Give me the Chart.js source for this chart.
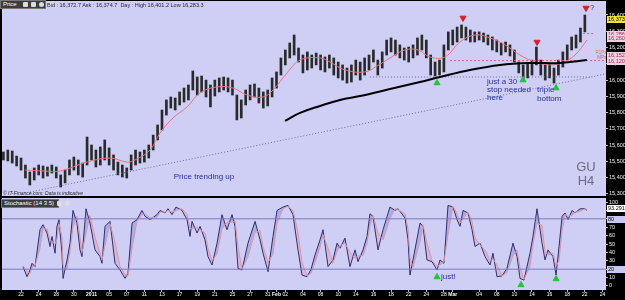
<!DOCTYPE html>
<html>
<head>
<meta charset="utf-8">
<script src="https://cdn.jsdelivr.net/npm/chart.js@4.4.1/dist/chart.umd.min.js"></script>
<style>
  html, body { margin: 0; padding: 0; background: #000; }
  #wrap { position: relative; width: 625px; height: 300px; background: #000; overflow: hidden; font-family: "Liberation Sans", Arial, sans-serif; }
  #priceBox { position: absolute; left: 0; top: 0; }
  #stochBox { position: absolute; left: 0; top: 197px; }
  .tag { position: absolute; background: #3c3c3c; border: 1px solid #777; color: #fff; font-size: 6px; line-height: 7px; padding: 0 2px; white-space: nowrap; }
  .tag i { display: inline-block; width: 5px; height: 5px; margin-left: 3px; vertical-align: middle; background: #ddd; border-radius: 1px; }
  .small { position: absolute; font-size: 5.5px; color: #223; white-space: nowrap; }
</style>
</head>
<body>
<div id="wrap">
  <div id="priceBox"><canvas id="price" width="625" height="197"></canvas></div>
  <div id="stochBox"><canvas id="stoch" width="625" height="103"></canvas></div>
  <div class="tag" style="left:0;top:0;width:40px;">Price<i style="margin-left:6px"></i><i></i><i style="border-radius:3px"></i><i></i></div>
  <div class="small" style="left:47px;top:2px;">Bid : 16,372.7 Ask : 16,374.7 &nbsp;Day : High 16,401.2 Low 16,283.3</div>
  <div class="small" style="left:3px;top:190px;font-style:italic;font-size:5px;">© IT-Finance.com: Data is indicative</div>
  <div class="tag" style="left:1px;top:199px;width:52px;">Stochastic (14 3 5)<i></i><i style="border-radius:3px"></i></div>
</div>
<script>
// x unit = trading day, 0 = Dec 20 2010; price bars are half-day slots
var tickDays = [2, 4, 6, 8, 10, 12, 14, 16, 18, 20, 22, 24, 26, 28, 30, 31, 32, 34, 36, 38, 40, 42, 44, 46, 48, 50, 51, 54, 56, 58, 60, 62, 64, 66, 68];
var tickLabels = ['22', '24', '28', '30', '2011', '05', '07', '11', '13', '17', '19', '21', '25', '27', '31', 'Feb', '02', '04', '08', '10', '14', '16', '18', '22', '24', '28', 'Mar', '04', '08', '10', '14', '16', '18', '22', '24'];

var priceTicks = [15300, 15400, 15500, 15600, 15700, 15800, 15900, 16000, 16100, 16200, 16300, 16400];
var stochTicks = [0, 10, 20, 30, 40, 50, 60, 70, 80, 90, 100];

var priceHigh = [
  15558, 15570, 15564, 15533, 15521, 15478, 15435, 15460, 15478, 15472,
  15466, 15478, 15466, 15417, 15447, 15509, 15527, 15509, 15490, 15650,
  15601, 15570, 15589, 15632, 15583, 15540, 15496, 15478, 15460, 15540,
  15570, 15558, 15570, 15601, 15662, 15724, 15816, 15878, 15896, 15890,
  15927, 15951, 15970, 16056, 16019, 16025, 16000, 15970, 16000, 16013,
  16019, 16013, 16000, 15908, 15878, 15939, 15970, 15976, 15951, 15927,
  15939, 16013, 16050, 16136, 16185, 16228, 16277, 16197, 16154, 16173,
  16154, 16166, 16154, 16142, 16154, 16136, 16111, 16093, 16074, 16093,
  16123, 16111, 16136, 16154, 16185, 16123, 16173, 16246, 16259, 16246,
  16216, 16197, 16203, 16216, 16259, 16277, 16246, 16154, 16111, 16123,
  16216, 16296, 16308, 16326, 16339, 16326, 16308, 16296, 16296, 16289,
  16277, 16265, 16246, 16228, 16234, 16216, 16185, 16111, 16093, 16105,
  16123, 16203, 16123, 16093, 16105, 16074, 16123, 16173, 16216, 16265,
  16277, 16320, 16400
];
var priceLow = [
  15509, 15503, 15490, 15472, 15447, 15398, 15355, 15386, 15417, 15398,
  15410, 15429, 15398, 15343, 15368, 15417, 15447, 15417, 15404, 15478,
  15509, 15466, 15478, 15509, 15478, 15447, 15417, 15404, 15398, 15447,
  15478, 15490, 15496, 15521, 15570, 15632, 15693, 15785, 15828, 15816,
  15847, 15865, 15878, 15939, 15908, 15927, 15896, 15835, 15902, 15927,
  15939, 15927, 15908, 15755, 15767, 15847, 15878, 15896, 15859, 15828,
  15841, 15896, 15951, 16031, 16093, 16136, 16154, 16111, 16044, 16062,
  16074, 16093, 16062, 16050, 16074, 16031, 16013, 16000, 15982, 15988,
  16031, 16000, 16031, 16062, 16111, 16031, 16074, 16154, 16173, 16154,
  16136, 16123, 16111, 16136, 16154, 16185, 16136, 16031, 16025, 16031,
  16050, 16185, 16216, 16234, 16259, 16246, 16234, 16234, 16246, 16234,
  16216, 16185, 16173, 16154, 16173, 16148, 16111, 16044, 16000, 16013,
  16031, 16093, 16031, 16000, 16013, 15982, 16031, 16080, 16123, 16185,
  16197, 16234, 16296
];

var fastMaDays = [2.45, 4.72, 6.42, 9.49, 12.10, 14.03, 14.94, 16.64, 17.78, 19.25, 20.84, 22.31, 24.24, 26.06, 27.65, 29.46, 30.60, 32.19, 33.67, 35.94, 37.07, 38.77, 41.04, 42.41, 43.88, 45.58, 47.06, 48.42, 50.12, 51.83, 53.53, 55.23, 56.94, 58.64, 60.34, 62.04, 63.40, 64.88, 66.24];
var fastMa = [15447, 15441, 15441, 15496, 15521, 15496, 15509, 15570, 15675, 15767, 15835, 15921, 15958, 15951, 15908, 15896, 15939, 16044, 16123, 16136, 16111, 16062, 16050, 16087, 16136, 16185, 16185, 16142, 16142, 16234, 16277, 16259, 16216, 16154, 16111, 16093, 16105, 16154, 16246];

var slowMaDays = [31.96, 33.67, 35.94, 38.21, 40.48, 43.88, 47.29, 49.56, 52.96, 56.37, 59.77, 63.17, 66.24];
var slowMa = [15749, 15798, 15841, 15878, 15902, 15945, 15988, 16019, 16062, 16093, 16105, 16105, 16123];

var trendDays = [3.02, 68.29];
var trendPrices = [15312, 16037];
var supportDays = [41.6, 66.6];
var supportPrice = 16019;
var pivotDays = [50.7, 68.3];
var pivotPrice = 16120;
var r1Days = [65.8, 67.0];
var r1Price = 16286;

var upArrowDays = [49.22, 58.98, 62.73];
var upArrowPrices = [15982, 16000, 15951];
var downArrowDays = [52.17, 60.57, 66.13];
var downArrowPrices = [16382, 16234, 16443];

var stochDays = [
  2.22, 2.68, 3.02, 3.25, 3.59, 4.15, 4.49, 4.95, 5.29, 5.52, 5.86, 6.08, 6.31, 6.65, 6.77, 7.22, 7.56, 7.90, 8.35, 8.69,
  8.92, 9.38, 9.83, 10.40, 10.96, 11.19, 11.53, 12.10, 12.67, 13.24, 13.80, 14.14, 14.60, 15.16, 15.73, 16.07, 16.64, 17.44, 17.78, 18.34,
  18.68, 19.14, 19.59, 20.27, 20.84, 21.18, 21.41, 21.98, 22.32, 22.88, 23.22, 23.68, 24.25, 24.81, 25.38, 25.95, 26.29, 26.63, 27.08, 27.76,
  28.56, 29.13, 29.47, 30.04, 30.60, 31.06, 31.74, 32.31, 32.87, 33.44, 33.89, 34.46, 34.92, 35.37, 35.94, 36.28, 36.85, 37.41, 37.87, 38.21,
  38.77, 39.34, 39.91, 40.25, 40.82, 41.27, 41.61, 41.95, 42.52, 43.09, 43.88, 44.45, 44.79, 45.59, 45.93, 46.15, 46.49, 47.29, 47.63, 48.08,
  48.65, 49.22, 49.56, 50.01, 50.47, 51.03, 51.49, 51.83, 52.17, 52.74, 53.19, 53.53, 54.10, 54.67, 55.23, 55.57, 56.03, 56.60, 57.16, 57.84,
  58.30, 58.64, 59.09, 59.77, 60.11, 60.57, 61.14, 61.48, 61.82, 62.38, 62.73, 63.07, 63.41, 63.75, 64.09, 64.55, 64.89, 65.46, 66.02, 66.24
];
var stochK = [
  23, 11, 19, 27, 23, 67, 73, 63, 47, 59, 39, 71, 79, 39, 9, 31, 51, 90, 75, 43,
  35, 92, 75, 43, 35, 27, 71, 77, 27, 19, 9, 15, 75, 79, 90, 83, 79, 85, 90, 87,
  92, 85, 94, 90, 79, 59, 77, 63, 71, 55, 35, 25, 51, 85, 67, 85, 71, 21, 19, 51,
  77, 55, 39, 17, 59, 90, 94, 96, 85, 43, 13, 11, 20, 37, 55, 67, 23, 31, 51, 45,
  57, 23, 43, 29, 43, 59, 86, 83, 43, 67, 94, 90, 92, 81, 55, 13, 31, 75, 71, 31,
  29, 19, 31, 27, 96, 94, 79, 71, 90, 87, 67, 47, 51, 35, 25, 39, 11, 12, 21, 51,
  35, 9, 7, 39, 59, 92, 51, 31, 43, 35, 13, 47, 83, 87, 79, 90, 87, 92, 92, 90
];
var stochD = [
  24, 17, 15, 22, 24, 45, 68, 68, 55, 53, 50, 56, 74, 58, 24, 20, 41, 70, 83, 58,
  40, 63, 84, 58, 40, 31, 48, 74, 52, 23, 14, 12, 45, 77, 85, 86, 81, 82, 88, 88,
  90, 88, 90, 92, 85, 69, 68, 70, 67, 63, 45, 30, 38, 68, 76, 76, 78, 46, 20, 35,
  64, 66, 47, 28, 38, 75, 92, 95, 90, 64, 28, 12, 15, 28, 46, 61, 45, 27, 41, 48,
  51, 40, 33, 36, 36, 51, 72, 84, 63, 55, 80, 92, 91, 86, 68, 34, 22, 53, 73, 51,
  30, 24, 25, 29, 61, 95, 86, 75, 80, 88, 77, 57, 49, 43, 30, 32, 25, 12, 16, 36,
  43, 22, 8, 23, 49, 75, 72, 41, 37, 39, 24, 30, 65, 85, 83, 84, 88, 89, 92, 91
];
var stochLevels = [20, 80];
var stochArrowDays = [49.22, 58.75, 62.73];
var stochArrowValues = [10.7, 1.2, 8.3];

var xMin = -0.16, xMax = 68.40;
var bg = '#cfcff6';

function pts(xs, ys) {
  return xs.map(function(x, i) { return { x: x, y: ys[i] }; });
}
function fmt(v) {
  return v.toLocaleString('en-US');
}

var panelBackground = {
  id: 'panelBackground',
  beforeDraw: function(chart) {
    var a = chart.chartArea, ctx = chart.ctx;
    ctx.save();
    ctx.fillStyle = bg;
    ctx.fillRect(a.left, a.top, a.right - a.left, a.bottom - a.top);
    ctx.restore();
  }
};

var notes = {
  id: 'notes',
  afterDatasetsDraw: function(chart, args, opts) {
    var ctx = chart.ctx, x = chart.scales.x, y = chart.scales.y;
    ctx.save();
    ctx.textBaseline = 'middle';
    opts.items.forEach(function(n) {
      ctx.font = n.font;
      ctx.fillStyle = n.color;
      ctx.textAlign = n.align || 'left';
      ctx.fillText(n.text, x.getPixelForValue(n.day), y.getPixelForValue(n.value));
    });
    ctx.restore();
  }
};

var axisBoxes = {
  id: 'axisBoxes',
  afterDraw: function(chart, args, opts) {
    var ctx = chart.ctx, y = chart.scales.y, a = chart.chartArea;
    ctx.save();
    ctx.font = '5.5px "Liberation Sans"';
    ctx.textBaseline = 'middle';
    ctx.textAlign = 'left';
    opts.items.forEach(function(b) {
      var py = Math.round(y.getPixelForValue(b.value));
      ctx.fillStyle = b.bg;
      ctx.fillRect(a.right + 1, py - 3, 18, 7);
      ctx.fillStyle = b.fg;
      ctx.fillText(b.text, a.right + 2, py + 0.5);
    });
    ctx.restore();
  }
};

function xAxis(shown) {
  return {
    type: 'linear',
    display: shown,
    offset: false,
    min: xMin,
    max: xMax,
    afterBuildTicks: function(axis) {
      axis.ticks = tickDays.map(function(v) { return { value: v }; });
    },
    afterFit: function(axis) {
      if (shown) axis.height = 10;
      axis.paddingLeft = 0;
      axis.paddingRight = 0;
    },
    grid: { display: true, offset: false, drawOnChartArea: false, drawTicks: true, tickLength: 2, color: '#bbb' },
    border: { display: false },
    ticks: {
      autoSkip: false,
      maxRotation: 0,
      padding: 0,
      color: '#fff',
      font: function(c) {
        var l = tickLabels[c.index];
        return { size: 5, weight: (l === '2011' || l === 'Feb' || l === 'Mar') ? 'bold' : 'normal' };
      },
      callback: function(v, i) { return tickLabels[i]; }
    }
  };
}

function rightAxis(min, max, ticks, label) {
  return {
    position: 'right',
    min: min,
    max: max,
    afterBuildTicks: function(axis) {
      axis.ticks = ticks.map(function(v) { return { value: v }; });
    },
    afterFit: function(axis) {
      axis.width = 19;
      axis.paddingTop = 0;
      axis.paddingBottom = 0;
    },
    grid: { display: true, drawOnChartArea: false, drawTicks: true, tickLength: 2, color: '#bbb' },
    border: { display: false },
    // tiny lineHeight so the edge labels do not pad the plot area
    ticks: { color: '#eee', padding: 1, font: { size: 5.5, lineHeight: 0.01 }, callback: label }
  };
}

Chart.defaults.font.family = '"Liberation Sans", Arial, sans-serif';
Chart.defaults.animation = false;

var priceDots = { borderColor: '#6e6e92', borderWidth: 1, borderDash: [1, 2], pointRadius: 0, fill: false };

new Chart(document.getElementById('price'), {
  type: 'bar',
  data: {
    datasets: [
      {
        type: 'bar',
        data: priceLow.map(function(lo, i) { return { x: i * 0.5, y: [lo, priceHigh[i]] }; }),
        backgroundColor: '#2a2a2a',
        barThickness: 2,
        order: 5
      },
      Object.assign({ type: 'line', data: pts(trendDays, trendPrices), order: 4 }, priceDots),
      Object.assign({ type: 'line', data: pts(supportDays, [supportPrice, supportPrice]), order: 4 }, priceDots),
      { type: 'line', data: pts(pivotDays, [pivotPrice, pivotPrice]), borderColor: '#d06080', borderWidth: 1, borderDash: [2, 2], pointRadius: 0, order: 4 },
      { type: 'line', data: pts(r1Days, [r1Price, r1Price]), borderColor: '#d06080', borderWidth: 1, borderDash: [2, 2], pointRadius: 0, order: 4 },
      { type: 'line', data: pts(fastMaDays, fastMa), borderColor: '#e0787a', borderWidth: 1, pointRadius: 0, tension: 0.4, order: 3 },
      { type: 'line', data: pts(slowMaDays, slowMa), borderColor: '#000', borderWidth: 2, pointRadius: 0, tension: 0.4, order: 2 },
      { type: 'line', data: pts(upArrowDays, upArrowPrices), showLine: false, pointStyle: 'triangle', pointRadius: 3.5, backgroundColor: '#22c43a', borderColor: '#22c43a', order: 1 },
      { type: 'line', data: pts(downArrowDays, downArrowPrices), showLine: false, pointStyle: 'triangle', rotation: 180, pointRadius: 3.5, backgroundColor: '#d82020', borderColor: '#d82020', order: 1 }
    ]
  },
  options: {
    responsive: false,
    layout: { autoPadding: false, padding: { left: 2, top: 1, bottom: 1, right: 0 } },
    plugins: {
      legend: { display: false },
      tooltip: { enabled: false },
      notes: {
        items: [
          { text: 'Price trending up', day: 22.77, value: 15404, align: 'center', color: '#2b2ba0', font: '8px "Liberation Sans"' },
          { text: 'just a 30', day: 54.89, value: 15988, color: '#2b2ba0', font: '8px "Liberation Sans"' },
          { text: 'stop needed', day: 54.89, value: 15939, color: '#2b2ba0', font: '8px "Liberation Sans"' },
          { text: 'here', day: 54.89, value: 15890, color: '#2b2ba0', font: '8px "Liberation Sans"' },
          { text: 'triple', day: 60.57, value: 15939, color: '#2b2ba0', font: '8px "Liberation Sans"' },
          { text: 'bottom', day: 60.57, value: 15884, color: '#2b2ba0', font: '8px "Liberation Sans"' },
          { text: '?', day: 66.59, value: 16443, color: '#2b2ba0', font: '8px "Liberation Sans"' },
          { text: 'R1Px', day: 67.2, value: 16170, color: '#d08040', font: '4.5px "Liberation Sans"' },
          { text: 'MPx', day: 67.4, value: 16135, color: '#d06080', font: '4.5px "Liberation Sans"' },
          { text: 'GU', day: 66.13, value: 15466, align: 'center', color: '#6c6c7c', font: '13px "Liberation Sans"' },
          { text: 'H4', day: 66.13, value: 15380, align: 'center', color: '#6c6c7c', font: '13px "Liberation Sans"' }
        ]
      },
      axisBoxes: {
        items: [
          { value: 16373.7, text: '16,373.7', bg: '#f2e23a', fg: '#000' },
          { value: 16286, text: '16,286', bg: '#efd2e2', fg: '#a02850' },
          { value: 16260, text: '16,260', bg: '#efd2e2', fg: '#a02850' },
          { value: 16152, text: '16,152', bg: '#efd2e2', fg: '#a02850' },
          { value: 16120, text: '16,120', bg: '#efd2e2', fg: '#a02850' }
        ]
      }
    },
    scales: {
      x: xAxis(false),
      y: rightAxis(15287.6, 16486, priceTicks, function(v) { return fmt(v); })
    }
  },
  plugins: [panelBackground, notes, axisBoxes]
});

new Chart(document.getElementById('stoch'), {
  type: 'line',
  data: {
    datasets: [
      { data: pts([xMin, xMax], [stochLevels[0], stochLevels[0]]), borderColor: '#7a7ac0', borderWidth: 1, pointRadius: 0 },
      { data: pts([xMin, xMax], [stochLevels[1], stochLevels[1]]), borderColor: '#7a7ac0', borderWidth: 1, pointRadius: 0 },
      { data: pts(stochDays, stochD), borderColor: '#d898a8', borderWidth: 1, pointRadius: 0 },
      {
        data: pts(stochDays, stochK),
        borderColor: '#2e2e70',
        borderWidth: 1,
        pointRadius: 0,
        fill: { target: 2, above: 'rgba(110, 110, 200, 0.35)', below: 'rgba(232, 160, 180, 0.5)' }
      },
      { data: pts(stochArrowDays, stochArrowValues), showLine: false, pointStyle: 'triangle', pointRadius: 3.5, backgroundColor: '#22c43a', borderColor: '#22c43a' }
    ]
  },
  options: {
    responsive: false,
    layout: { autoPadding: false, padding: { left: 2, top: 1, bottom: 0, right: 0 } },
    plugins: {
      legend: { display: false },
      tooltip: { enabled: false },
      notes: {
        items: [
          { text: 'just!', day: 49.67, value: 10.7, color: '#2b2ba0', font: '8px "Liberation Sans"' }
        ]
      },
      axisBoxes: {
        items: [
          { value: 93.291, text: '93.291', bg: '#ffffff', fg: '#000' },
          { value: 80, text: '80', bg: '#c8c8f0', fg: '#000' },
          { value: 20, text: '20', bg: '#c8c8f0', fg: '#000' }
        ]
      }
    },
    scales: {
      x: xAxis(true),
      y: rightAxis(-4.8, 104.8, stochTicks, function(v) { return String(v); })
    }
  },
  plugins: [panelBackground, notes, axisBoxes]
});
</script>
</body>
</html>
